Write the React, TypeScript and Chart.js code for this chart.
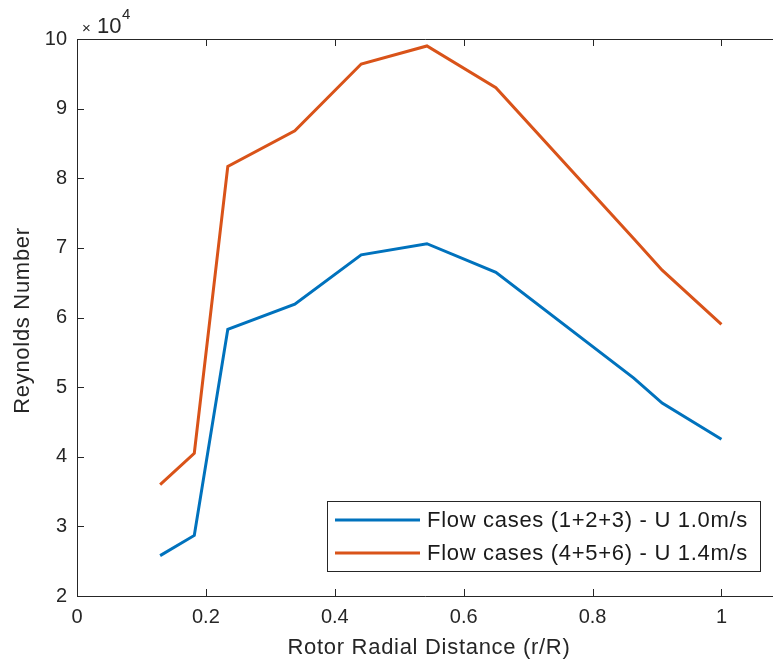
import { useEffect, useRef } from "react";
import { Chart, registerables } from "chart.js";

Chart.register(...registerables);

// ---- data ----
const radialPosition = [0.129, 0.182, 0.234, 0.338, 0.441, 0.543, 0.65, 0.864, 0.908, 1.0];
const reynoldsU10 = [25800, 28700, 58300, 61900, 69000, 70600, 66500, 51300, 47700, 42500];
const reynoldsU14 = [36000, 40500, 81700, 86800, 96400, 99000, 93000, 71300, 66800, 59000];
const seriesLabels = ["Flow cases (1+2+3) - U 1.0m/s", "Flow cases (4+5+6) - U 1.4m/s"];
const xTickValues = [0, 0.2, 0.4, 0.6, 0.8, 1];
const yTickValues = [20000, 30000, 40000, 50000, 60000, 70000, 80000, 90000, 100000];
const xTitle = "Rotor Radial Distance (r/R)";
const yTitle = "Reynolds Number";
const yExponent = 4;

const AXIS = "#262626";
const BLUE = "#0072BD";
const ORANGE = "#D95319";
const FONT = '"Liberation Sans", Arial, Helvetica, sans-serif';

const decorPlugin = {
  id: "matlabDecor",
  afterDraw(chart: any) {
    const ctx = chart.ctx as CanvasRenderingContext2D;
    const { left, right, top, bottom } = chart.chartArea;
    const xs = chart.scales.x;
    const ys = chart.scales.y;
    ctx.save();
    ctx.strokeStyle = AXIS;
    ctx.lineWidth = 1;
    // box (left, bottom, top)
    ctx.beginPath();
    ctx.moveTo(right, top + 0.5);
    ctx.lineTo(left + 0.5, top + 0.5);
    ctx.lineTo(left + 0.5, bottom + 0.5);
    ctx.lineTo(right, bottom + 0.5);
    ctx.stroke();
    // inward ticks
    const tl = 7;
    ctx.beginPath();
    xTickValues.forEach((v) => {
      const px = Math.round(xs.getPixelForValue(v)) + 0.5;
      ctx.moveTo(px, bottom);
      ctx.lineTo(px, bottom - tl);
      ctx.moveTo(px, top);
      ctx.lineTo(px, top + tl);
    });
    yTickValues.forEach((v) => {
      const py = Math.round(ys.getPixelForValue(v)) + 0.5;
      ctx.moveTo(left, py);
      ctx.lineTo(left + tl, py);
    });
    ctx.stroke();

    // axis titles
    (ctx as any).letterSpacing = "0.7px";
    ctx.fillStyle = AXIS;
    ctx.font = `22px ${FONT}`;
    ctx.textAlign = "center";
    ctx.textBaseline = "middle";
    ctx.fillText(xTitle, (left + right) / 2 + 4, 648);
    ctx.save();
    ctx.translate(23, (top + bottom) / 2 + 3);
    ctx.rotate(-Math.PI / 2);
    ctx.fillText(yTitle, 0, 0);
    ctx.restore();
    (ctx as any).letterSpacing = "0px";

    // exponent label x10^4
    ctx.textAlign = "left";
    ctx.textBaseline = "alphabetic";
    ctx.font = `15px ${FONT}`;
    ctx.fillText("\u00d7", 82, 33);
    ctx.font = `22px ${FONT}`;
    ctx.fillText("10", 97, 33);
    ctx.font = `15px ${FONT}`;
    ctx.fillText(String(yExponent), 122, 19);

    // legend
    const lx0 = 327.5, ly0 = 501.5, lx1 = 760.5, ly1 = 571.5;
    ctx.fillStyle = "#ffffff";
    ctx.fillRect(lx0, ly0, lx1 - lx0, ly1 - ly0);
    ctx.strokeStyle = AXIS;
    ctx.lineWidth = 1;
    ctx.strokeRect(lx0, ly0, lx1 - lx0, ly1 - ly0);
    const rows = [
      { color: BLUE, y: 520, label: seriesLabels[0] },
      { color: ORANGE, y: 553, label: seriesLabels[1] },
    ];
    ctx.font = `22px ${FONT}`;
    (ctx as any).letterSpacing = "0.7px";
    ctx.textBaseline = "middle";
    rows.forEach((r) => {
      ctx.strokeStyle = r.color;
      ctx.lineWidth = 3;
      ctx.beginPath();
      ctx.moveTo(335, r.y);
      ctx.lineTo(420, r.y);
      ctx.stroke();
      ctx.fillStyle = "#1a1a1a";
      ctx.fillText(r.label, 427, r.y + 1);
    });
    (ctx as any).letterSpacing = "0px";
    ctx.restore();
  },
};

export default function App() {
  const canvasRef = useRef<HTMLCanvasElement | null>(null);

  useEffect(() => {
    if (!canvasRef.current) return;
    const toPoints = (ys: number[]) => radialPosition.map((x, i) => ({ x, y: ys[i] }));
    const chart = new Chart(canvasRef.current, {
      type: "line",
      data: {
        datasets: [
          {
            label: seriesLabels[0],
            data: toPoints(reynoldsU10),
            borderColor: BLUE,
            backgroundColor: BLUE,
            borderWidth: 3,
            pointRadius: 0,
            tension: 0,
          },
          {
            label: seriesLabels[1],
            data: toPoints(reynoldsU14),
            borderColor: ORANGE,
            backgroundColor: ORANGE,
            borderWidth: 3,
            pointRadius: 0,
            tension: 0,
          },
        ],
      },
      options: {
        animation: false,
        responsive: true,
        maintainAspectRatio: false,
        layout: { padding: { top: 39, right: 0, left: 0, bottom: 0 } },
        plugins: { legend: { display: false }, tooltip: { enabled: false } },
        scales: {
          x: {
            type: "linear",
            min: 0,
            max: 1.08,
            grid: { display: false, drawTicks: false },
            border: { display: false },
            afterBuildTicks: (s: any) => {
              s.ticks = xTickValues.map((v) => ({ value: v }));
            },
            afterFit: (s: any) => {
              s.height = 68;
            },
            ticks: {
              color: AXIS,
              font: { family: FONT, size: 20 },
              padding: 9,
              maxRotation: 0,
              callback: (v: any) => String(Number(v)),
            },
          },
          y: {
            type: "linear",
            min: 20000,
            max: 100000,
            grid: { display: false, drawTicks: false },
            border: { display: false },
            afterBuildTicks: (s: any) => {
              s.ticks = yTickValues.map((v) => ({ value: v }));
            },
            afterFit: (s: any) => {
              s.width = 77;
            },
            ticks: {
              color: AXIS,
              font: { family: FONT, size: 20 },
              padding: 10,
              callback: (v: any) => String(Number(v) / Math.pow(10, yExponent)),
            },
          },
        },
      },
      plugins: [decorPlugin],
    });
    return () => chart.destroy();
  }, []);

  return (
    <div style={{ position: "fixed", left: 0, top: 0, width: 773, height: 664, background: "#fff" }}>
      <canvas ref={canvasRef} />
    </div>
  );
}
